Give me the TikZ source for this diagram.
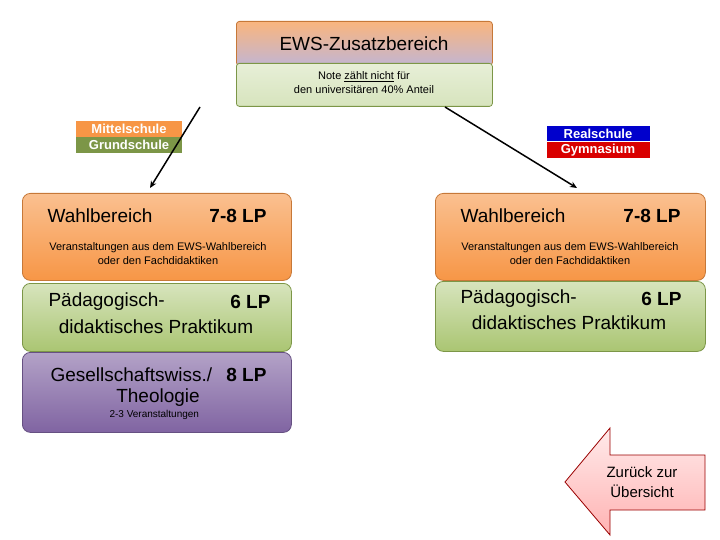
\documentclass[tikz,border=0pt]{standalone}
\usepackage{fontspec}
\setmainfont{Liberation Sans}
\usetikzlibrary{arrows.meta}
\definecolor{og}{HTML}{F79646}
\definecolor{ogl}{HTML}{FAC090}
\definecolor{gr}{HTML}{9BBB59}
\definecolor{grl}{HTML}{D7E4BD}
\definecolor{pu}{HTML}{8064A2}
\definecolor{pul}{HTML}{B3A2C7}
\begin{document}
\begin{tikzpicture}[x=1pt,y=-1pt,
 box/.style={rounded corners=8pt,draw=#1!80!black,line width=0.8pt},
 obox/.style={box=og,top color=ogl,bottom color=og},
 gbox/.style={box=gr,top color=grl,bottom color=gr!85},
 pbox/.style={box=pu,top color=pul,bottom color=pu},
 big/.style={font=\fontsize{19}{22}\selectfont},
 bigb/.style={font=\bfseries\fontsize{19}{22}\selectfont},
 small/.style={font=\fontsize{11}{14}\selectfont},
 lab/.style={text=white,font=\bfseries\fontsize{13}{14}\selectfont,inner sep=0pt},
 arr/.style={-{Stealth[length=7pt,width=6pt]},line width=1.5pt}]
\useasboundingbox (0,0) rectangle (720,540);
% top
\node[box=og,top color=og!70,bottom color=pul!80,minimum width=256pt,minimum height=44pt,anchor=north west,rounded corners=3pt] (top) at (236,21) {};
\node[font=\fontsize{19}{22}\selectfont] (toptxt) at (364,44) {EWS-Zusatzbereich};
\node[box=gr,top color=grl!60,bottom color=grl,minimum width=256pt,minimum height=43pt,anchor=north west,rounded corners=3pt] (note) at (236,63) {};
\node[align=center,small] (notetxt) at (364,83) {Note \underline{zählt nicht} für\\den universitären 40\% Anteil};
% school labels
\node[fill=og,lab,minimum width=106pt,minimum height=16pt] (ms) at (129,129) {Mittelschule};
\node[fill=gr!80!black,lab,minimum width=106pt,minimum height=16pt] (gs) at (129,145) {Grundschule};
\node[fill=blue!80!black,lab,minimum width=103pt,minimum height=15pt] (rs) at (598,133.5) {Realschule};
\node[fill=red!85!black,lab,minimum width=103pt,minimum height=16pt] (gy) at (598,150) {Gymnasium};
% left column
\node[obox,minimum width=269pt,minimum height=87pt,anchor=north west] (lw) at (22,193) {};
\node[gbox,minimum width=269pt,minimum height=68pt,anchor=north west] (lp) at (22,283) {};
\node[pbox,minimum width=269pt,minimum height=80pt,anchor=north west] (lg) at (22,352) {};
% right column
\node[obox,minimum width=270pt,minimum height=87pt,anchor=north west] (rw) at (435,193) {};
\node[gbox,minimum width=270pt,minimum height=70pt,anchor=north west] (rp) at (435,281) {};
\coordinate (lt) at (150,188);
\coordinate (rt) at (577,188);
\draw[arr] (200,107) -- (lt);
\draw[arr] (445,107) -- (rt);
% texts left
\node[anchor=west,big] (t1) at (44,216) {Wahlbereich};
\node[anchor=east,bigb] (t2) at (270,216) {7-8 LP};
\node[align=center,small] (t3) at (158,254) {Veranstaltungen aus dem EWS-Wahlbereich\\oder den Fachdidaktiken};
\node[anchor=west,big] (t4) at (45,302) {Pädagogisch-};
\node[anchor=east,bigb] (t5) at (274,302) {6 LP};
\node[big] (t6) at (156,327) {didaktisches Praktikum};
\node[anchor=west,big] (t7) at (47,375) {Gesellschaftswiss./};
\node[anchor=east,bigb] (t8) at (270,375) {8 LP};
\node[big] (t9) at (158,398) {Theologie};
\node[anchor=west,font=\fontsize{10}{12}\selectfont] (t10) at (106,415) {2-3 Veranstaltungen};
% texts right
\node[anchor=west,big] (r1) at (457,216) {Wahlbereich};
\node[anchor=east,bigb] (r2) at (684,216) {7-8 LP};
\node[align=center,small] (r3) at (570,254) {Veranstaltungen aus dem EWS-Wahlbereich\\oder den Fachdidaktiken};
\node[anchor=west,big] (r4) at (457,299) {Pädagogisch-};
\node[anchor=east,bigb] (r5) at (685,299) {6 LP};
\node[big] (r6) at (569,323) {didaktisches Praktikum};
% back arrow
\draw[draw=red!60!black,top color=red!8,bottom color=red!30,line width=0.8pt]
 (565,482) -- (610,428) -- (610,455) -- (705,455) -- (705,510) -- (610,510) -- (610,535) -- cycle;
\node[align=center,font=\fontsize{15}{20}\selectfont] (back) at (642,482) {Zurück zur\\Übersicht};
\end{tikzpicture}
\end{document}
